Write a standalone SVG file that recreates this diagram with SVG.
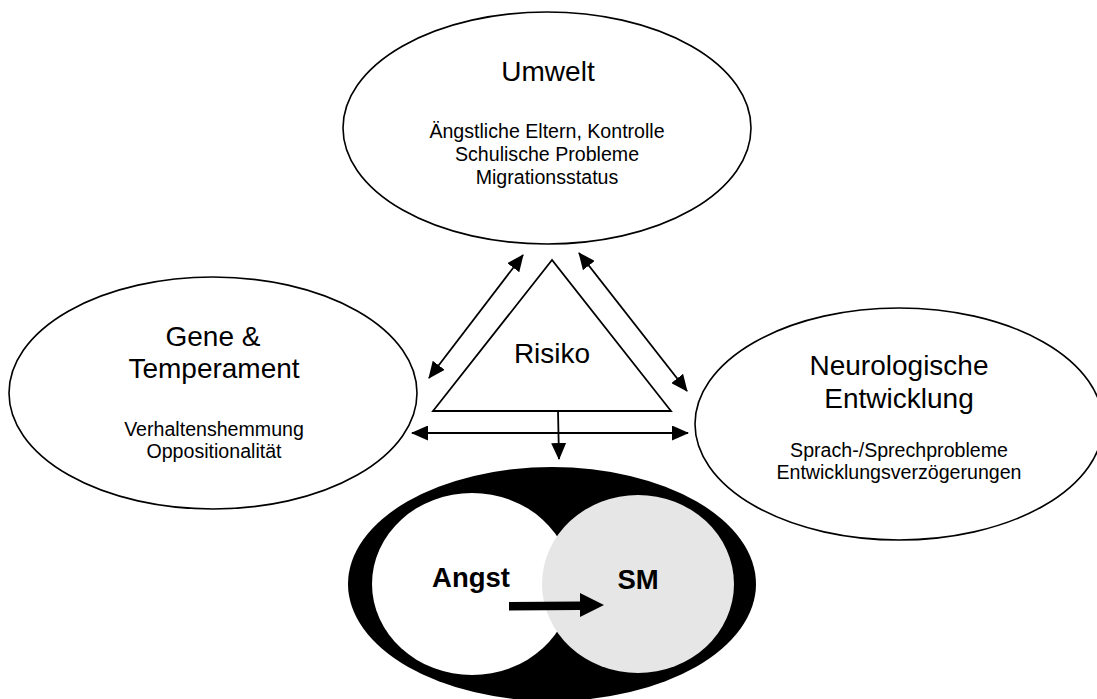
<svg xmlns="http://www.w3.org/2000/svg" width="1097" height="699" viewBox="0 0 1097 699">
<defs>
<style>
.node{fill:#fff;stroke:#000;stroke-width:1.6}
.h{font-family:"Liberation Sans",Arial,sans-serif;font-size:28px;fill:#000;text-anchor:middle}
.s{font-family:"Liberation Sans",Arial,sans-serif;font-size:19.6px;fill:#000;text-anchor:middle}
.b{font-family:"Liberation Sans",Arial,sans-serif;font-size:27.5px;font-weight:bold;fill:#000;text-anchor:middle}
.conn{stroke:#000;stroke-width:1.8;fill:none;marker-end:url(#ah)}
.both{marker-start:url(#ah)}
</style>
<marker id="ah" markerUnits="userSpaceOnUse" markerWidth="17" markerHeight="15" refX="16" refY="7.5" orient="auto-start-reverse" viewBox="0 0 17 15">
<path d="M0,0 L17,7.5 L0,15 z" fill="#000"/>
</marker>
</defs>
<rect width="1097" height="699" fill="#fff"/>

<g id="umwelt">
<ellipse class="node" cx="547" cy="128" rx="204" ry="116"/>
<text class="h" x="548" y="81">Umwelt</text>
<text class="s" x="547" y="138">Ängstliche Eltern, Kontrolle</text>
<text class="s" x="547" y="161">Schulische Probleme</text>
<text class="s" x="547" y="184">Migrationsstatus</text>
</g>

<g id="gene">
<ellipse class="node" cx="213" cy="393" rx="204" ry="116"/>
<text class="h" x="213" y="346">Gene &amp;</text>
<text class="h" x="214" y="378">Temperament</text>
<text class="s" x="214" y="436">Verhaltenshemmung</text>
<text class="s" x="214" y="458">Oppositionalität</text>
</g>

<g id="neuro">
<ellipse class="node" cx="899" cy="424" rx="204" ry="116"/>
<text class="h" x="899" y="375">Neurologische</text>
<text class="h" x="899" y="408">Entwicklung</text>
<text class="s" x="899" y="457">Sprach-/Sprechprobleme</text>
<text class="s" x="899" y="479">Entwicklungsverzögerungen</text>
</g>

<g id="risiko">
<polygon points="552,260 433,411 671,411" fill="#fff" stroke="#000" stroke-width="1.8"/>
<text class="h" x="552" y="363">Risiko</text>
</g>

<g id="connectors">
<line class="conn both" x1="523" y1="255" x2="429" y2="378"/>
<line class="conn both" x1="579" y1="253" x2="687" y2="391"/>
<line class="conn both" x1="412" y1="433" x2="688" y2="433"/>
<line class="conn" x1="558" y1="411" x2="559" y2="459"/>
</g>

<g id="angst-sm">
<ellipse cx="552" cy="584" rx="204" ry="117" fill="#000"/>
<ellipse cx="472" cy="584" rx="100" ry="91" fill="#fff"/>
<ellipse cx="638" cy="584" rx="96" ry="89" fill="#e6e6e6"/>
<text class="b" x="471" y="587">Angst</text>
<text class="b" x="638" y="589">SM</text>
<path d="M509,602 L580,601.5 L580,593 L604,605 L580,617 L580,610 L509,610.5 z" fill="#000"/>
</g>
</svg>
